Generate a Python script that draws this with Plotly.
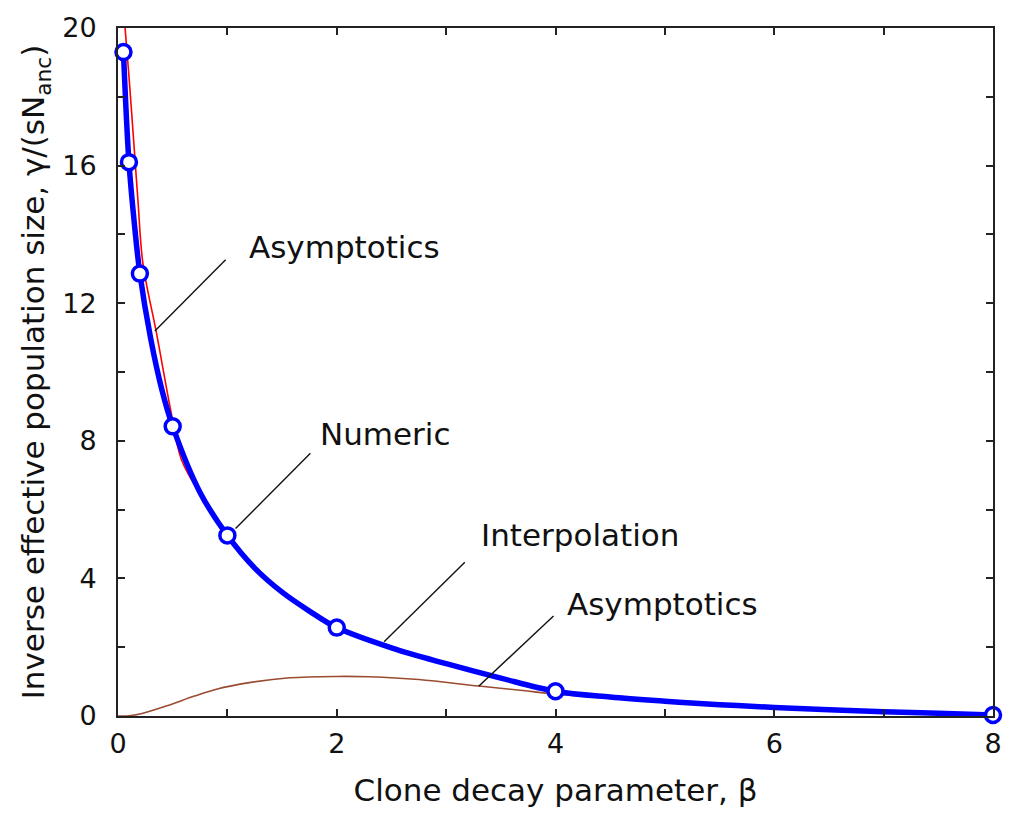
import plotly.graph_objects as go

# Numeric (circles)
numeric_beta = [0.05, 0.1, 0.2, 0.5, 1, 2, 4, 8]
numeric_val = [19.3, 16.1, 12.86, 8.42, 5.25, 2.57, 0.72, 0.03]

# Interpolation (thick blue curve)
interp_beta = [0.05, 0.1, 0.15, 0.2, 0.3, 0.4, 0.5, 0.75, 1, 1.25, 1.5, 1.75, 2, 2.5, 3,
               3.5, 4, 4.5, 5, 5.5, 6, 7, 7.5, 8]
interp_val = [19.3, 16.1, 14.3, 12.86, 10.95, 9.5, 8.42, 6.5, 5.25, 4.3, 3.6, 3.05, 2.57, 1.98, 1.52,
              1.1, 0.72, 0.55, 0.43, 0.33, 0.25, 0.12, 0.08, 0.03]

# Small-beta asymptotics (red)
asym_small_beta = [0.058, 0.0665, 0.1, 0.146, 0.182, 0.228, 0.349, 0.486, 0.577, 0.75, 1.0]
asym_small_val = [20.4, 19.93, 18.6, 16.6, 15.0, 13.15, 11.18, 8.82, 7.48, 6.45, 5.2]

# Large-beta asymptotics (brown)
asym_large_beta = [0, 0.08, 0.2, 0.44, 0.7, 0.9, 1.2, 1.57, 2.0, 2.3, 2.75, 3.3, 3.7, 4.0,
                   4.5, 5, 5.5, 6, 7, 8]
asym_large_val = [0, 0.0, 0.06, 0.29, 0.58, 0.78, 0.97, 1.11, 1.15, 1.14, 1.06, 0.87, 0.74, 0.64,
                  0.52, 0.4, 0.31, 0.23, 0.11, 0.02]

# Annotation labels and leader lines (data coordinates)
label_texts = ["Asymptotics", "Numeric", "Interpolation", "Asymptotics"]
label_x = [2.07, 2.45, 4.22, 4.98]
label_y = [13.64, 8.2, 5.25, 3.27]
leader_x0 = [0.984, 1.759, 3.171, 3.982]
leader_y0 = [13.26, 7.64, 4.47, 2.91]
leader_x1 = [0.337, 1.075, 2.433, 3.298]
leader_y1 = [11.19, 5.45, 2.16, 0.865]

FONT = "DejaVu Sans"

fig = go.Figure()
fig.add_trace(go.Scatter(x=asym_large_beta, y=asym_large_val, mode="lines",
                         line=dict(color="#9a4b30", width=1.6, shape="spline"),
                         showlegend=False, hoverinfo="skip"))
fig.add_trace(go.Scatter(x=asym_small_beta, y=asym_small_val, mode="lines",
                         line=dict(color="#ff0000", width=1.6, shape="spline"),
                         showlegend=False, hoverinfo="skip"))
fig.add_trace(go.Scatter(x=interp_beta, y=interp_val, mode="lines",
                         line=dict(color="#0000ff", width=5.5, shape="spline"),
                         showlegend=False))
fig.add_trace(go.Scatter(x=numeric_beta, y=numeric_val, mode="markers",
                         marker=dict(symbol="circle", size=15, color="white",
                                     line=dict(color="#0000ff", width=3.5)),
                         cliponaxis=False, showlegend=False))

for i in range(len(label_texts)):
    fig.add_shape(type="line", xref="x", yref="y",
                  x0=leader_x0[i], y0=leader_y0[i], x1=leader_x1[i], y1=leader_y1[i],
                  line=dict(color="#111111", width=1.4), layer="above")
    fig.add_annotation(x=label_x[i], y=label_y[i], xref="x", yref="y", text=label_texts[i],
                       showarrow=False, font=dict(family=FONT, size=31, color="#111111"))

axis_common = dict(showline=True, linecolor="#222222", linewidth=2, mirror="ticks",
                   ticks="inside", ticklen=7, tickwidth=2, tickcolor="#222222",
                   showgrid=False, zeroline=False,
                   tickfont=dict(family=FONT, size=27, color="#111111"))

fig.update_xaxes(range=[0, 8], tickvals=[0, 2, 4, 6, 8],
                 minor=dict(dtick=1, ticks="inside", ticklen=7, tickwidth=2, tickcolor="#222222"),
                 title=dict(text="Clone decay parameter, β", font=dict(family=FONT, size=31, color="#111111"),
                            standoff=21),
                 ticklabelstandoff=3, **axis_common)
fig.update_yaxes(range=[0, 20], tickvals=[0, 4, 8, 12, 16, 20],
                 minor=dict(dtick=2, ticks="inside", ticklen=7, tickwidth=2, tickcolor="#222222"),
                 title=dict(text="Inverse effective population size, γ/(sN<sub>anc</sub>)",
                            font=dict(family=FONT, size=31, color="#111111"), standoff=8),
                 ticklabelstandoff=14, **axis_common)

fig.update_layout(width=1014, height=816, margin=dict(l=118, r=18, t=22, b=100),
                  paper_bgcolor="white", plot_bgcolor="white", showlegend=False)

fig.write_html("out.html")
